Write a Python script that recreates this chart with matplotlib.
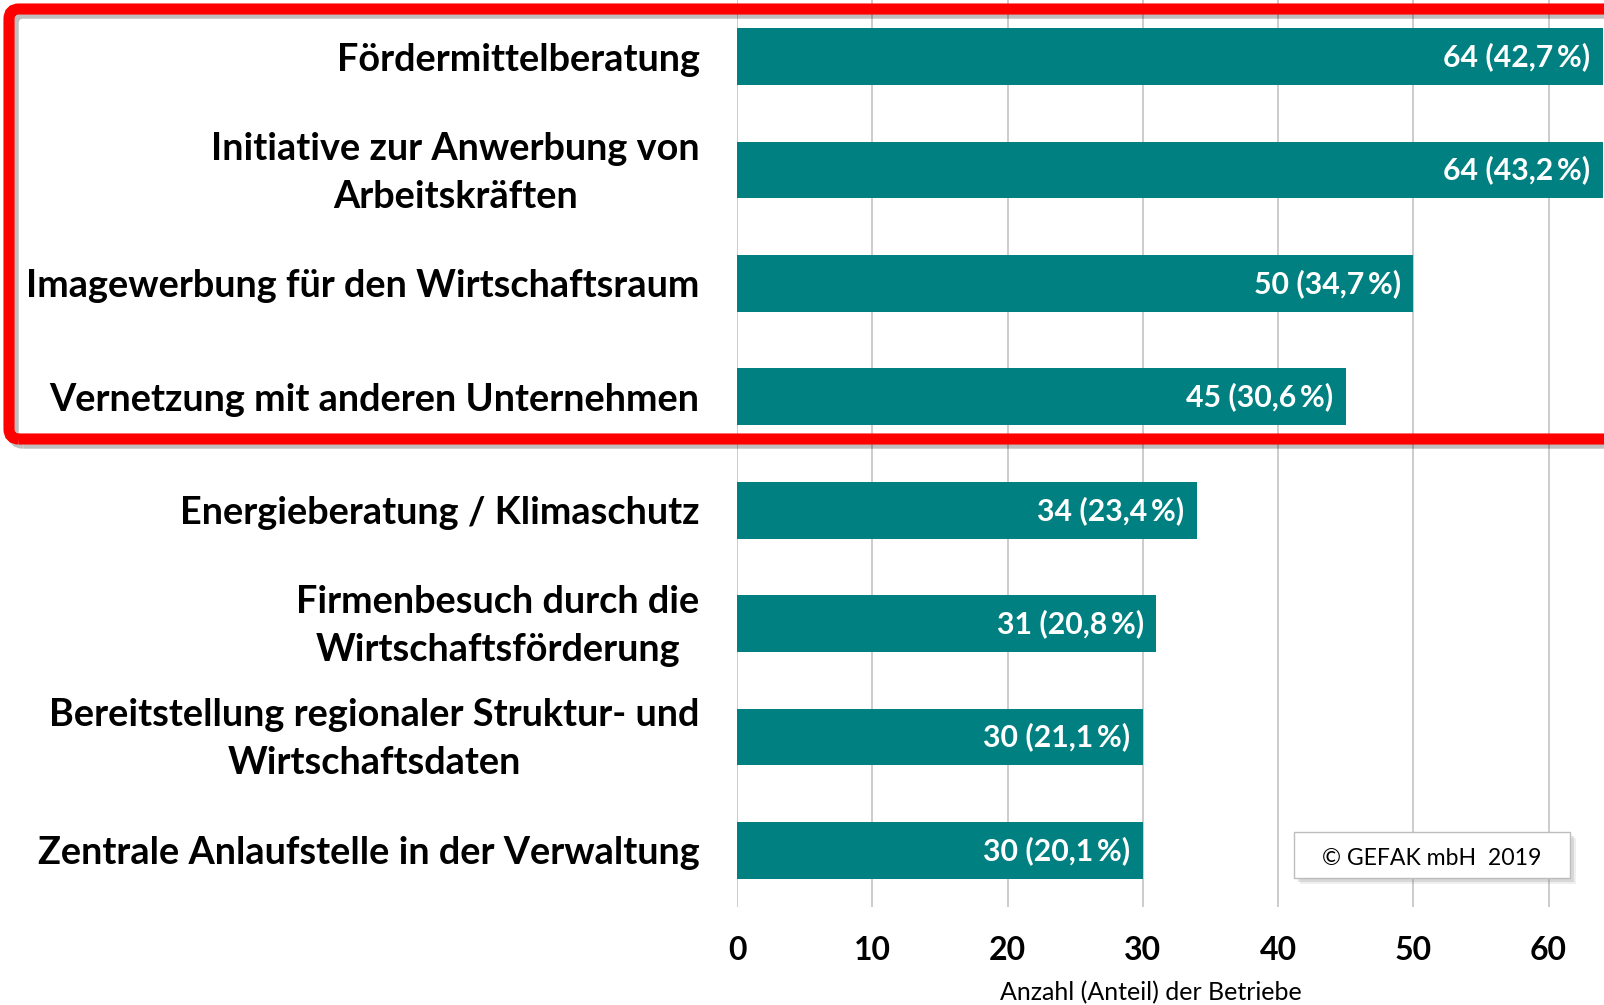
import matplotlib.pyplot as plt
import matplotlib.patheffects as pe
from matplotlib.patches import FancyBboxPatch, Rectangle
from matplotlib.transforms import IdentityTransform, ScaledTranslation

plt.rcParams['font.family'] = ['Lato', 'DejaVu Sans']

# Survey results: wished-for services of the business development agency
categories = [
    'Fördermittelberatung',
    'Initiative zur Anwerbung von\nArbeitskräften',
    'Imagewerbung für den Wirtschaftsraum',
    'Vernetzung mit anderen Unternehmen',
    'Energieberatung / Klimaschutz',
    'Firmenbesuch durch die\nWirtschaftsförderung',
    'Bereitstellung regionaler Struktur- und\nWirtschaftsdaten',
    'Zentrale Anlaufstelle in der Verwaltung',
]
counts = [64, 64, 50, 45, 34, 31, 30, 30]
shares = ['42,7', '43,2', '34,7', '30,6', '23,4', '20,8', '21,1', '20,1']
xticks = [0, 10, 20, 30, 40, 50, 60]

teal = '#008080'
grid_grey = '#c8c8c8'

fig = plt.figure(figsize=(16.04, 10.05), dpi=100)
ax = fig.add_axes([0.4595, 0.0975, 0.5405, 0.9025])

pos = list(range(len(categories)))
ax.barh(pos, counts, height=0.5, color=teal, zorder=3)
ax.set_ylim(len(categories) - 0.5, -0.5)
ax.set_xlim(0, 64.1)

ax.set_yticks(pos)
ax.set_yticklabels(categories, fontsize=27.3, fontweight='bold',
                   multialignment='center', linespacing=1.5)
ax.set_xticks(xticks)
ax.set_xticklabels([str(t) for t in xticks], fontsize=23, fontweight='bold')
ax.tick_params(axis='y', length=0, pad=27)
ax.tick_params(axis='x', length=0, pad=21)

# two-line labels sit a little high, centred on their bar
lift = ScaledTranslation(0, 0.075, fig.dpi_scale_trans)
for lbl in ax.get_yticklabels():
    if '\n' in lbl.get_text():
        lbl.set_transform(lbl.get_transform() + lift)

for s in ax.spines.values():
    s.set_visible(False)
ax.grid(axis='x', color=grid_grey, lw=1.3, zorder=0)
ax.set_axisbelow(True)

# value labels inside the bars
for i, (c, sh) in enumerate(zip(counts, shares)):
    ax.annotate(f'{c} ({sh}\u2009%)', xy=(c, i), xytext=(-9, 0),
                textcoords='offset points', ha='right', va='center',
                color='white', fontweight='bold', fontsize=21.8, zorder=4)

fig.text(1151 / 1604, 12 / 1005, 'Anzahl (Anteil) der Betriebe',
         ha='center', va='center', fontsize=18)

# copyright box with a soft shadow
px = IdentityTransform()
for off, a in [(6, 0.12), (4, 0.2)]:
    fig.add_artist(Rectangle((1294 + off, 127 - off), 276, 46, transform=px,
                             facecolor='grey', edgecolor='none', alpha=a))
fig.add_artist(Rectangle((1294, 127), 276, 46, transform=px,
                         facecolor='white', edgecolor='#bdbdbd', lw=1))
fig.text(1432, 147, '© GEFAK mbH  2019', transform=px,
         ha='center', va='center', fontsize=16.6)

# red frame around the top four items
frame = FancyBboxPatch((9, 566), 1700, 430, transform=px,
                       boxstyle='round,pad=0,rounding_size=10',
                       fill=False, edgecolor='#ff0000', lw=8, zorder=10,
                       path_effects=[pe.SimpleLineShadow(offset=(3, -3),
                                                         shadow_color='k',
                                                         alpha=0.25),
                                     pe.Normal()])
fig.add_artist(frame)

fig.savefig('out.png', dpi=100)
